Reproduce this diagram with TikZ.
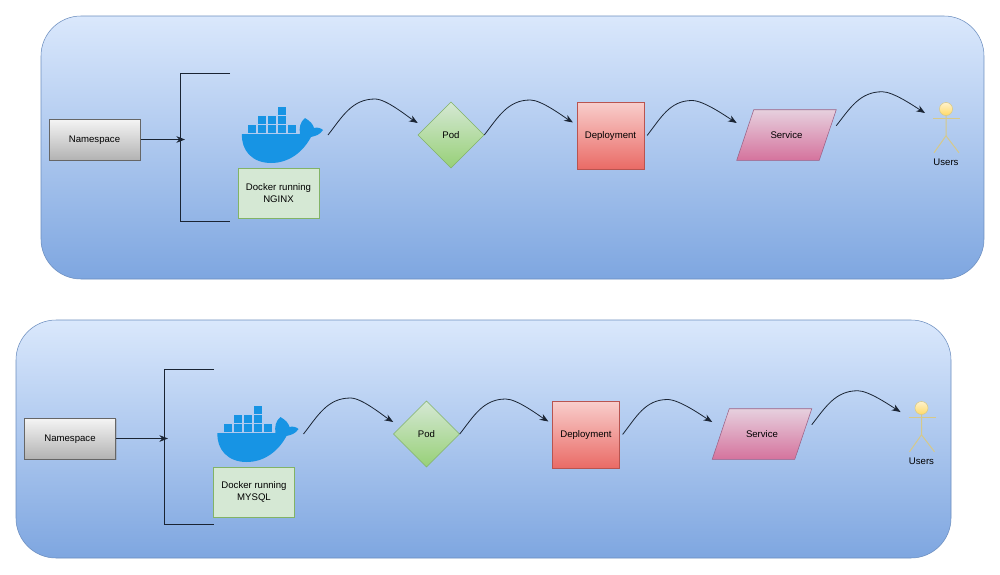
\documentclass[tikz,border=0pt]{standalone}
\usepackage{fontspec}
\setmainfont{Liberation Sans}
\usetikzlibrary{shapes.geometric,arrows.meta,calc,shadows}
\definecolor{panelline}{HTML}{6C8EBF}
\definecolor{paneltop}{HTML}{DAE8FC}
\definecolor{panelbot}{HTML}{7EA6E0}
\definecolor{dockerblue}{HTML}{1794E4}
\definecolor{greenline}{HTML}{82B366}
\definecolor{greentop}{HTML}{D5E8D4}
\definecolor{greenbot}{HTML}{97D077}
\definecolor{redline}{HTML}{B85450}
\definecolor{redtop}{HTML}{F8CECC}
\definecolor{redbot}{HTML}{EA6B66}
\definecolor{pinkline}{HTML}{996185}
\definecolor{pinktop}{HTML}{E6D0DE}
\definecolor{pinkbot}{HTML}{D5739D}
\definecolor{yellowline}{HTML}{D6C98A}
\definecolor{yellowtop}{HTML}{FFF2CC}
\definecolor{yellowbot}{HTML}{FFD966}
\definecolor{darkline}{HTML}{1A2433}
\tikzset{
  panel/.style={draw=panelline,top color=paneltop,bottom color=panelbot,rounded corners=30pt,inner sep=0pt},
  boxtext/.style={inner sep=0pt,font=\fontsize{7.2}{9}\selectfont},
  nsbox/.style={boxtext,text depth=0pt,draw=black!60,line width=.75pt,top color=black!4,bottom color=black!30,minimum width=68.25pt,minimum height=30.75pt,drop shadow={shadow xshift=1pt,shadow yshift=-1pt,opacity=.3}},
  dockerbox/.style={boxtext,draw=greenline,fill=greentop,minimum width=60.75pt,minimum height=37.5pt,align=center,font=\fontsize{7.2}{9.2}\selectfont},
  podbox/.style={boxtext,diamond,aspect=1,draw=greenline,top color=greentop,bottom color=greenbot,minimum width=49.5pt,minimum height=49.5pt},
  deploybox/.style={boxtext,text depth=0pt,draw=redline,top color=redtop,bottom color=redbot,minimum width=50pt,minimum height=50pt},
  servicearea/.style={inner sep=0pt,minimum width=74.25pt,minimum height=37.5pt},
  serviceshape/.style={draw=pinkline,top color=pinktop,bottom color=pinkbot},
  actorhead/.style={circle,draw=yellowline,top color=yellowtop,bottom color=yellowbot,minimum size=9.8pt,inner sep=0pt},
  actorline/.style={draw=yellowline,line width=.75pt},
  flow/.style={draw=darkline,line width=.6pt,-{Stealth[length=6.5pt,width=5pt]}},
  bracketline/.style={draw=darkline,line width=.75pt}
}
% one row of the namespace: prefix, x shift, y shift, text of the docker box
\newcommand{\kuberow}[4]{%
\begin{scope}[shift={(#2,#3)}]
  \node[nsbox] (ns#1) at (94.5,139.5) {Namespace};
  % whale
  \fill[dockerblue] (242,134) -- (300,134) .. controls (299,128) and (300,122) .. (305,118)
    .. controls (310,121) and (313,124) .. (314,128) .. controls (317,127) and (321,128) .. (323,130)
    .. controls (320,135) and (315,136) .. (311,137) .. controls (303,152) and (289,163) .. (271,163)
    .. controls (252,163) and (241,150) .. (242,134) -- cycle;
  \foreach \boxx in {248,258,268,278,288}
    \fill[dockerblue] (\boxx,125) rectangle ++(8.3,7.5);
  \foreach \boxx in {258,268,278}
    \fill[dockerblue] (\boxx,116) rectangle ++(8.3,7.5);
  \fill[dockerblue] (278,107) rectangle ++(8.3,7.5);
  \coordinate (whale#1) at (328,135);
  \node[dockerbox] (docker#1) at (278.5,193) {Docker running\\#4};
  \node[podbox] (pod#1) at (451,135) {Pod};
  \node[deploybox] (deploy#1) at (610.5,135.5) {Deployment};
  \node[servicearea] (service#1) at (786.5,135) {};
  \path[serviceshape] (service#1.south west) -- ($(service#1.north west)+(17,0)$) -- (service#1.north east)
    -- ($(service#1.south east)+(-17,0)$) -- cycle;
  \node[boxtext,text depth=0pt] (servicetext#1) at (service#1) {Service};
  % actor
  \node[actorhead] (head#1) at (946,109) {};
  \draw[actorline] (head#1.south) -- ++(0,20) -- ++(-12,17);
  \draw[actorline] (head#1.south) ++(0,20) -- ++(13,17);
  \draw[actorline] (933,118.5) -- (960,118.5);
  \node[boxtext] (users#1) at (946,162.5) {Users};
  % curves
  \draw[flow] (whale#1) to[out=52,in=180] ++(47,-36) to[out=0,in=148,looseness=.6] ($(pod#1.west)+(0,-12)$);
  \draw[flow] (pod#1.east) to[out=52,in=180] ++(46,-35) to[out=0,in=148,looseness=.6] ($(deploy#1.west)+(-4,-13)$);
  \draw[flow] ($(deploy#1.east)+(3,0)$) to[out=52,in=180] ++(45,-35) to[out=0,in=148,looseness=.6] ($(service#1.west)+(0,-12)$);
  \draw[flow] ($(service#1.north east)+(0,16)$) to[out=52,in=180] ++(46,-34) to[out=0,in=148,looseness=.6] ($(head#1)+(-21,4)$);
\end{scope}}
\begin{document}
\begin{tikzpicture}[x=.75pt,y=-.75pt]
\useasboundingbox[fill=white] (0,0) rectangle (1000,575);
	\node[panel,minimum width=707.25pt,minimum height=197.25pt] (panelA) at (512.5,147.5) {};
	\node[panel,minimum width=701.25pt,minimum height=178.5pt] (panelB) at (483.5,439) {};
	\kuberow{A}{0}{0}{NGINX}
	\kuberow{B}{-24.5}{299}{MYSQL}
	% brackets
	\coordinate (inA) at (185,139.5);
	\coordinate (inB) at (168,438.5);
	\draw[bracketline] (230,73.5) -- (180.5,73.5) -- (180.5,221) -- (230,221);
	\draw[bracketline] (214,369) -- (164,369) -- (164,524) -- (214,524);
	\draw[flow] (nsA.east) -- (inA);
	\draw[flow] (nsB.east) -- (inB);
\end{tikzpicture}
\end{document}
